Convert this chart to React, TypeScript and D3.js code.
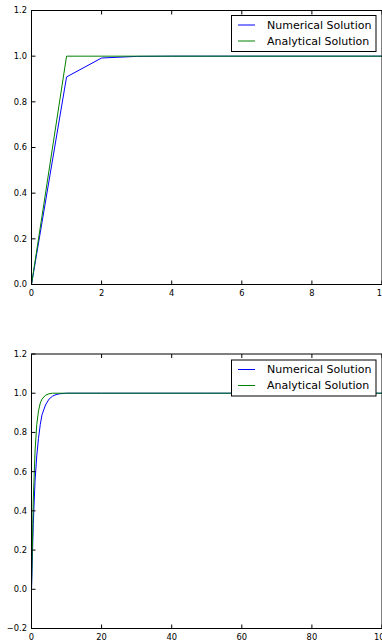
import * as d3 from "d3";
import React from "react";

// top panel: step size 1 on [0, 10]
const topT = [0, 1, 2, 3, 4, 5, 6, 7, 8, 9, 10];
const topNumerical = [0, 0.909, 0.992, 0.999, 1.0, 1.0, 1.0, 1.0, 1.0, 1.0, 1.0];
const topAnalytical = [0, 1.0, 1.0, 1.0, 1.0, 1.0, 1.0, 1.0, 1.0, 1.0, 1.0];

// bottom panel on [0, 100]
const botT = [0, 0.5, 1, 1.5, 2, 2.5, 3, 4, 5, 6, 7, 8, 10, 20, 50, 100];
const botNumerical = [0, 0.33, 0.55, 0.68, 0.77, 0.84, 0.89, 0.94, 0.97, 0.985, 0.993, 0.997, 1.0, 1.0, 1.0, 1.0];
const botAnalytical = [0, 0.45, 0.7, 0.84, 0.91, 0.95, 0.97, 0.99, 0.997, 1.0, 1.0, 1.0, 1.0, 1.0, 1.0, 1.0];

const topXTicks = [0, 2, 4, 6, 8, 10];
const topYTicks = [0, 0.2, 0.4, 0.6, 0.8, 1.0, 1.2];
const botXTicks = [0, 20, 40, 60, 80, 100];
const botYTicks = [-0.2, 0, 0.2, 0.4, 0.6, 0.8, 1.0, 1.2];

const legendLabels = ["Numerical Solution", "Analytical Solution"];
const colors = ["#0000ff", "#008000"];

const W = 382;
const H = 642;
const font = "'DejaVu Sans', sans-serif";

type PanelProps = {
  t: number[];
  series: number[][];
  xDomain: [number, number];
  yDomain: [number, number];
  xTicks: number[];
  yTicks: number[];
  top: number;
  bottom: number;
  xFmt: (v: number) => string;
  legendTop: number;
};

const Panel: React.FC<PanelProps> = ({ t, series, xDomain, yDomain, xTicks, yTicks, top, bottom, xFmt, legendTop }) => {
  const left = 31.5;
  const right = 382;
  const x = d3.scaleLinear(xDomain, [left, right]);
  const y = d3.scaleLinear(yDomain, [bottom, top]);
  const line = d3.line<number>().x((_, i) => x(t[i])).y((d) => y(d));
  const yFmt = (v: number) => d3.format(".1f")(v).replace("-", "\u2212");

  return (
    <g>
      {series.map((s, i) => (
        <path key={i} d={line(s) || ""} fill="none" stroke={colors[i]} strokeWidth={1} />
      ))}
      <rect x={left} y={top} width={right - left} height={bottom - top} fill="none" stroke="#000" strokeWidth={1} />
      {xTicks.map((v) => (
        <g key={"x" + v}>
          <line x1={x(v)} x2={x(v)} y1={bottom} y2={bottom - 4} stroke="#000" />
          <line x1={x(v)} x2={x(v)} y1={top} y2={top + 4} stroke="#000" />
          <text x={x(v)} y={bottom + 11} fontSize={8.3} fontFamily={font} textAnchor="middle" fill="#000">
            {xFmt(v)}
          </text>
        </g>
      ))}
      {yTicks.map((v) => (
        <g key={"y" + v}>
          <line x1={left} x2={left + 4} y1={y(v)} y2={y(v)} stroke="#000" />
          <text x={27} y={y(v)} dy="0.35em" fontSize={8.3} fontFamily={font} textAnchor="end" fill="#000">
            {yFmt(v)}
          </text>
        </g>
      ))}
      <g transform={`translate(231.5, ${legendTop})`}>
        <rect x={0} y={0} width={144.5} height={36} fill="#fff" stroke="#000" strokeWidth={1} />
        {legendLabels.map((label, i) => (
          <g key={label} transform={`translate(0, ${9.5 + i * 16})`}>
            <line x1={6.5} x2={23.5} y1={0} y2={0} stroke={colors[i]} strokeWidth={1} />
            <text x={35.5} y={0} dy="0.36em" fontSize={11} fontFamily={font} fill="#000">
              {label}
            </text>
          </g>
        ))}
      </g>
    </g>
  );
};

const App: React.FC = () => {
  return (
    <svg width={W} height={H} style={{ position: "absolute", left: 0, top: 0, background: "#fff" }}>
      <Panel
        t={topT}
        series={[topNumerical, topAnalytical]}
        xDomain={[0, 10]}
        yDomain={[0, 1.2]}
        xTicks={topXTicks}
        yTicks={topYTicks}
        top={10.5}
        bottom={284.5}
        xFmt={(v) => String(v)}
        legendTop={15.5}
      />
      <Panel
        t={botT}
        series={[botNumerical, botAnalytical]}
        xDomain={[0, 100]}
        yDomain={[-0.2, 1.2]}
        xTicks={botXTicks}
        yTicks={botYTicks}
        top={354}
        bottom={628.5}
        xFmt={(v) => String(v)}
        legendTop={360}
      />
    </svg>
  );
};

export default App;
